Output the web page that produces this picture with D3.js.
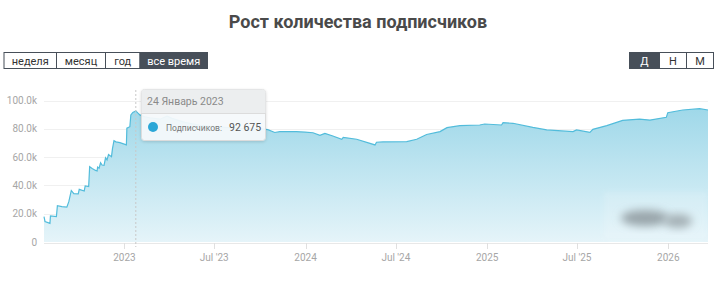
<!DOCTYPE html>
<html><head><meta charset="utf-8">
<script src="https://cdn.jsdelivr.net/npm/d3@7"></script>
<style>
html,body{margin:0;padding:0;background:#fff;}
svg{display:block;font-family:Roboto,"Open Sans",sans-serif;}
</style></head>
<body>
<svg id="chart" width="716" height="287"></svg>
<script>
// ---- data ----
const dates = [
"2022-07-23","2022-07-25","2022-08-04","2022-08-05","2022-08-17","2022-08-19","2022-08-28","2022-09-07",
"2022-09-11","2022-09-16","2022-09-21","2022-09-30","2022-10-02","2022-10-12","2022-10-14","2022-10-21",
"2022-10-23","2022-10-28","2022-11-04","2022-11-07","2022-11-08","2022-11-11","2022-11-14","2022-11-17",
"2022-11-21","2022-11-24","2022-11-27","2022-11-30","2022-12-06","2022-12-08","2022-12-11","2022-12-15",
"2022-12-23","2023-01-05","2023-01-06","2023-01-12","2023-01-14","2023-01-18","2023-01-24","2023-01-28",
"2023-02-01","2023-02-11","2023-02-21","2023-03-14","2023-03-28","2023-04-07","2023-05-03","2023-06-02",
"2023-07-12","2023-08-22","2023-10-05","2023-10-17","2023-10-31","2023-11-10","2023-12-14","2023-12-31",
"2024-01-16","2024-01-30","2024-02-09","2024-02-25","2024-03-14","2024-03-17","2024-04-13","2024-05-20",
"2024-05-23","2024-06-05","2024-07-23","2024-08-12","2024-09-01","2024-09-28","2024-10-12","2024-11-07",
"2024-12-17","2024-12-27","2025-01-30","2025-02-02","2025-02-22","2025-04-03","2025-05-01","2025-06-23",
"2025-06-30","2025-07-27","2025-08-02","2025-08-30","2025-10-01","2025-11-04","2025-11-25","2025-12-28",
"2025-12-31","2026-01-30","2026-03-05","2026-03-22"
];
const subscribers = [
17900,14500,13200,18400,18000,25600,25000,24600,
28500,36400,34200,34000,37200,36000,39600,39200,
53200,52000,50600,50200,53000,52200,56000,54400,
54200,59500,58000,61800,60300,66000,71600,70800,
70200,68600,80400,81500,89800,91600,92675,91200,
89800,88500,87800,86800,89000,87400,84500,82500,
81200,80400,80000,79400,77400,78000,78000,77600,
77200,75400,76800,74900,72600,74000,72600,68600,
70500,70700,70900,72600,76000,78000,80800,82200,
82700,83400,82700,84300,83900,81000,79200,78000,
79200,77500,79600,82200,86000,86900,86200,88100,
91400,93300,94200,93300
];
const yTicks = [0,20000,40000,60000,80000,100000];
const xTickDates = ["2023-01-01","2023-07-01","2024-01-01","2024-07-01","2025-01-01","2025-07-01","2026-01-01"];
const xTickLabels = ["2023","Jul '23","2024","Jul '24","2025","Jul '25","2026"];
const periodButtons = ["неделя","месяц","год","все время"];
const scaleButtons = ["Д","Н","М"];
const title = "Рост количества подписчиков";
const tooltipDate = "2023-01-24";
const tooltipHeader = "24 Январь 2023";
const tooltipLabel = "Подписчиков:";
const tooltipValue = "92 675";

// ---- drawing ----
const parse = d3.timeParse("%Y-%m-%d");
const data = dates.map((d,i)=>({date:parse(d), value:subscribers[i]}));
const svg = d3.select("#chart");
const defs = svg.append("defs");

const x = d3.scaleTime().domain([parse("2022-07-23"), parse("2026-03-22")]).range([44,708]);
const y = d3.scaleLinear().domain([0,100000]).range([242,100.5]);

// title
svg.append("text").attr("x",358).attr("y",28).attr("text-anchor","middle")
  .attr("font-size",18).attr("font-weight",700).attr("fill","#4a4a4a").text(title);

// buttons
function buttons(labels, edges, active){
  const g = svg.append("g");
  labels.forEach((l,i)=>{
    const x0 = edges[i], x1 = edges[i+1];
    g.append("rect").attr("x",x0+0.5).attr("y",52.5).attr("width",x1-x0).attr("height",16)
      .attr("fill", i===active ? "#474f59" : "#fff").attr("stroke","#474f59").attr("stroke-width",1);
    g.append("text").attr("x",(x0+x1)/2+0.5).attr("y",64.5).attr("text-anchor","middle")
      .attr("font-size",11).attr("fill", i===active ? "#fff" : "#333").text(l);
  });
}
buttons(periodButtons,[3.5,56,105,139.5,207],3);
buttons(scaleButtons,[629,659,686,713],0);

// grid
svg.append("g").selectAll("line").data(yTicks.slice(1)).join("line")
  .attr("x1",44).attr("x2",708).attr("y1",d=>Math.round(y(d))+0.5).attr("y2",d=>Math.round(y(d))+0.5)
  .attr("stroke","#f0f0f0");

// y labels
svg.append("g").selectAll("text").data(yTicks).join("text")
  .attr("x",37).attr("y",d=>y(d)+3.5).attr("text-anchor","end")
  .attr("font-size",10).attr("fill","#a6a6a6")
  .text(d=> d===0 ? "0" : (d/1000).toFixed(1)+"k");

// gradient
const grad = defs.append("linearGradient").attr("id","fillGrad").attr("x1",0).attr("y1",0).attr("x2",0).attr("y2",1);
grad.append("stop").attr("offset","0%").attr("stop-color","#9fd8e9");
grad.append("stop").attr("offset","100%").attr("stop-color","#e5f4f9");

const area = d3.area().x(d=>x(d.date)).y0(y(0)).y1(d=>y(d.value));
const line = d3.line().x(d=>x(d.date)).y(d=>y(d.value));
svg.append("path").datum(data).attr("d",area).attr("fill","url(#fillGrad)");
svg.append("path").datum(data).attr("d",line).attr("fill","none").attr("stroke","#52bcdb").attr("stroke-width",1.2);

// x axis
const xa = svg.append("g").attr("transform","translate(0,243)");
xa.append("line").attr("x1",44).attr("x2",708).attr("y1",0.5).attr("y2",0.5).attr("stroke","#e8e8e8");
const xt = xTickDates.map((d,i)=>({date:parse(d), label:xTickLabels[i]}));
xa.selectAll("line.tick").data(xt).join("line").attr("class","tick")
  .attr("x1",d=>Math.round(x(d.date))+0.5).attr("x2",d=>Math.round(x(d.date))+0.5)
  .attr("y1",0).attr("y2",6).attr("stroke","#e0e0e0");
xa.selectAll("text").data(xt).join("text")
  .attr("x",d=>x(d.date)).attr("y",18).attr("text-anchor","middle")
  .attr("font-size",10).attr("fill","#a6a6a6").text(d=>d.label);

// watermark (blurred)
const blur = defs.append("filter").attr("id","blur").attr("x","-50%").attr("y","-50%").attr("width","200%").attr("height","200%");
blur.append("feGaussianBlur").attr("stdDeviation",4);
const blur2 = defs.append("filter").attr("id","blur2");
blur2.append("feGaussianBlur").attr("stdDeviation",2);
svg.append("rect").attr("x",604).attr("y",192).attr("width",103).attr("height",46)
  .attr("fill","#ffffff").attr("opacity",0.15).attr("filter","url(#blur2)");
svg.append("ellipse").attr("cx",645).attr("cy",218).attr("rx",24).attr("ry",8)
  .attr("fill","#9aa6ab").attr("filter","url(#blur)");
svg.append("ellipse").attr("cx",678).attr("cy",221).attr("rx",14).attr("ry",7)
  .attr("fill","#a5b1b6").attr("filter","url(#blur)");

// crosshair
const cx = x(parse(tooltipDate));
svg.append("line").attr("x1",cx).attr("x2",cx).attr("y1",90).attr("y2",247)
  .attr("stroke","#c8c8c8").attr("stroke-dasharray","2,2");

// tooltip
const shadow = defs.append("filter").attr("id","shadow").attr("x","-20%").attr("y","-20%").attr("width","140%").attr("height","150%");
shadow.append("feDropShadow").attr("dx",0).attr("dy",1).attr("stdDeviation",1.5).attr("flood-color","#000").attr("flood-opacity",0.15);
const tt = svg.append("g");
tt.append("rect").attr("x",141.5).attr("y",89.5).attr("width",124).attr("height",51).attr("rx",3)
  .attr("fill","#f6fafc").attr("fill-opacity",0.93).attr("stroke","#dcdcdc").attr("filter","url(#shadow)");
tt.append("path").attr("d","M141.5,113 V92.5 a3,3 0 0 1 3,-3 H262.5 a3,3 0 0 1 3,3 V113 Z")
  .attr("fill","#eceeef").attr("stroke","none");
tt.append("line").attr("x1",141.5).attr("x2",265.5).attr("y1",113.5).attr("y2",113.5).attr("stroke","#dcdcdc");
tt.append("text").attr("x",147).attr("y",105).attr("font-size",10.5).attr("fill","#8a8a8a").text(tooltipHeader);
tt.append("circle").attr("cx",153).attr("cy",127).attr("r",5).attr("fill","#2ca7d7");
tt.append("text").attr("x",166).attr("y",131).attr("font-size",9.5).attr("fill","#777")
  .attr("textLength",56).attr("lengthAdjust","spacingAndGlyphs").text(tooltipLabel);
tt.append("text").attr("x",229).attr("y",131).attr("font-size",10.5).attr("fill","#555").text(tooltipValue);
</script>
</body></html>
